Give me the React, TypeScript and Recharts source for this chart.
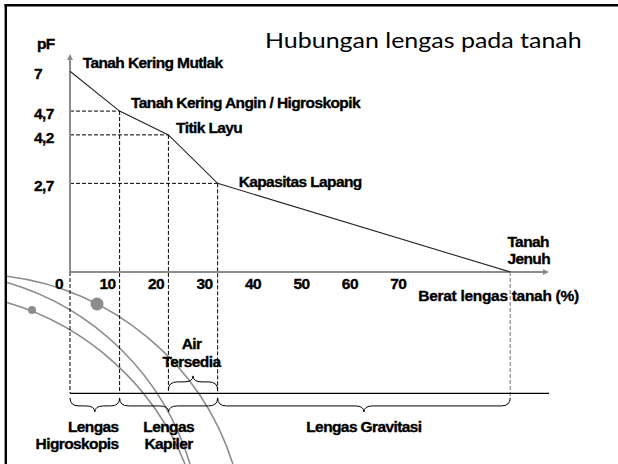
import React from 'react';
import { LineChart, Line, XAxis, YAxis, ReferenceLine } from 'recharts';

// ---- data ----
const moisture = [0, 10.23, 20.3, 30.45, 90.8]; // Berat lengas tanah (%)
const pFLabels = ['7', '4,7', '4,2', '2,7', '0'];
// schematic (non-linear) drawing height of each pF level
const pFPlot = [7, 5.61, 4.78, 3.09, 0];
const pointLabels = [
  ['Tanah Kering Mutlak'],
  ['Tanah Kering Angin / Higroskopik'],
  ['Titik Layu'],
  ['Kapasitas Lapang'],
  ['Tanah', 'Jenuh'],
];
const xTicks = [0, 10, 20, 30, 40, 50, 60, 70];
const yTicks = [pFPlot[0], pFPlot[1], pFPlot[2], pFPlot[3]];
const yTickLabels = [pFLabels[0], pFLabels[1], pFLabels[2], pFLabels[3]];
const zones = [
  { lines: ['Lengas', 'Higroskopis'], from: 0, to: 1 },
  { lines: ['Lengas', 'Kapiler'], from: 1, to: 3 },
  { lines: ['Lengas Gravitasi'], from: 3, to: 4 },
];
const availableWater = { lines: ['Air', 'Tersedia'], from: 2, to: 3 };
const title = 'Hubungan lengas pada tanah';
const xTitle = 'Berat lengas tanah (%)';
const yTitle = 'pF';

const data = moisture.map((m, i) => ({ m, pos: pFPlot[i] }));

// ---- layout ----
const X_MAX = 98.8;
const Y_MAX = 7.6;
const BASE_Y = -4.23; // horizontal base line below the axis
const BRACE_Y = -4.39; // top of the lower braces
const AIR_BRACE_Y = -4.11; // bottom of the upper brace

const labelFont: any = {
  fontFamily: "Arial, 'Liberation Sans', sans-serif",
  fontWeight: 'bold',
  fontSize: 15.5,
  letterSpacing: -0.6,
  fill: '#000',
  stroke: '#000',
  strokeWidth: 0.35,
};
const AXIS_GRAY = '#8c8c8c';
const labelOffsets = [
  [12.7, -3.2],
  [11.5, -2.7],
  [7.7, -2.3],
  [21, 3.7],
  [-2.8, -25.3],
];
const LINE_GAP = 17.3;

const renderPointLabel = (props: any) => {
  const { cx, cy, index } = props;
  const [dx, dy] = labelOffsets[index];
  return (
    <g key={`pl-${index}`}>
      {pointLabels[index].map((t, j) => (
        <text key={j} x={cx + dx} y={cy + dy + j * LINE_GAP} {...labelFont}>
          {t}
        </text>
      ))}
    </g>
  );
};

const XTick = (props: any) => {
  const { x, y, payload } = props;
  return (
    <text x={x - 11} y={y + 16.5} textAnchor="middle" {...labelFont}>
      {payload.value}
    </text>
  );
};

const YTick = (props: any) => {
  const { x, y, payload } = props;
  const idx = yTicks.indexOf(payload.value);
  return (
    <text x={x - 36} y={y + 8} textAnchor="start" {...labelFont}>
      {idx >= 0 ? yTickLabels[idx] : ''}
    </text>
  );
};

const ArrowLine = (p: any) => {
  const { x1, y1, x2, y2 } = p;
  const ang = Math.atan2(y2 - y1, x2 - x1);
  const L = 6;
  const W = 3;
  const c = Math.cos(ang);
  const s = Math.sin(ang);
  const bx = x2 - L * c;
  const by = y2 - L * s;
  const pts = `${x2},${y2} ${bx - W * s},${by + W * c} ${bx + W * s},${by - W * c}`;
  return (
    <g>
      <line x1={x1} y1={y1} x2={bx} y2={by} stroke={AXIS_GRAY} strokeWidth={2} />
      <polygon points={pts} fill={AXIS_GRAY} />
    </g>
  );
};

const bracePath = (x1: number, x2: number, y0: number, d: number) => {
  const h = 8 * d;
  const t = 6 * d;
  const xm = (x1 + x2) / 2;
  const r = Math.min(9, (x2 - x1) / 4);
  return `M ${x1} ${y0} Q ${x1} ${y0 + h} ${x1 + r} ${y0 + h} L ${xm - r} ${y0 + h} Q ${xm} ${y0 + h} ${xm} ${y0 + h + t} Q ${xm} ${y0 + h} ${xm + r} ${y0 + h} L ${x2 - r} ${y0 + h} Q ${x2} ${y0 + h} ${x2} ${y0}`;
};

const makeBrace = (lines: string[], dir: number, mode: string) => (p: any) => {
  const { x1, x2, y1 } = p;
  const xm = (x1 + x2) / 2;
  let tx = xm;
  let anchor: any = 'middle';
  if (mode === 'end') {
    tx = x2 - 1;
    anchor = 'end';
  } else if (mode === 'air') {
    tx = xm - 1.5;
  }
  const baseY = dir > 0 ? y1 + 33.7 : y1 - 41;
  const gap = dir > 0 ? LINE_GAP : 17.7;
  return (
    <g>
      <path d={bracePath(x1, x2, y1, dir)} fill="none" stroke="#000" strokeWidth={1} />
      {lines.map((t, j) => (
        <text key={j} x={tx} y={baseY + j * gap} textAnchor={anchor} {...labelFont}>
          {t}
        </text>
      ))}
    </g>
  );
};

const Background = () => (
  <svg width={618} height={464} style={{ position: 'absolute', left: 0, top: 0 }}>
    <rect x={0} y={0} width={618} height={464} fill="#fff" />
    <path d="M 7 276.3 A 273.4 273.4 0 0 1 232.9 464" fill="none" stroke={AXIS_GRAY} strokeWidth={1.6} />
    <path d="M 7 282.5 A 269.7 269.7 0 0 1 190 464" fill="none" stroke={AXIS_GRAY} strokeWidth={1.6} />
    <path d="M 7 302.6 A 275.6 275.6 0 0 1 185 464" fill="none" stroke={AXIS_GRAY} strokeWidth={1.6} />
    <circle cx={97} cy={304} r={6.5} fill={AXIS_GRAY} />
    <circle cx={32} cy={310} r={4} fill={AXIS_GRAY} />
    <line x1={4.5} y1={5.2} x2={618} y2={5.2} stroke="#000" strokeWidth={2.6} />
    <line x1={5.8} y1={4} x2={5.8} y2={464} stroke="#000" strokeWidth={2.4} />
    <text
      x={265}
      y={48.3}
      fontFamily="Lato, 'Open Sans', sans-serif"
      fontSize={21}
      textLength={316.7}
      lengthAdjust="spacingAndGlyphs"
      fill="#000"
    >
      {title}
    </text>
    <text x={37} y={49} {...labelFont}>
      {yTitle}
    </text>
    <text x={418.3} y={300.5} {...labelFont} letterSpacing={-0.3}>
      {xTitle}
    </text>
  </svg>
);

export default function App() {
  return (
    <div style={{ position: 'absolute', left: 0, top: 0, width: 618, height: 464 }}>
      <Background />
      <div style={{ position: 'absolute', left: 0, top: 0 }}>
        <LineChart
          width={618}
          height={464}
          data={data}
          margin={{ top: 54, right: 69, bottom: 162, left: 34 }}
        >
          <XAxis
            dataKey="m"
            type="number"
            domain={[0, X_MAX]}
            ticks={xTicks}
            interval={0}
            axisLine={false}
            tickLine={false}
            tickSize={0}
            tickMargin={0}
            height={30}
            tick={<XTick />}
          />
          <YAxis
            type="number"
            domain={[0, Y_MAX]}
            ticks={yTicks}
            interval={0}
            axisLine={false}
            tickLine={false}
            tickSize={0}
            tickMargin={0}
            width={36}
            tick={<YTick />}
          />
          {/* horizontal dashed guides */}
          {[1, 2, 3].map((i) => (
            <ReferenceLine
              key={`h${i}`}
              segment={[
                { x: 0, y: pFPlot[i] },
                { x: moisture[i], y: pFPlot[i] },
              ]}
              stroke="#000"
              strokeWidth={1}
              strokeDasharray="4 2"
              ifOverflow="visible"
            />
          ))}
          {/* vertical dashed guides */}
          {[0, 1, 2, 3].map((i) => (
            <ReferenceLine
              key={`v${i}`}
              segment={[
                { x: moisture[i], y: i === 0 ? 0 : pFPlot[i] },
                { x: moisture[i], y: BASE_Y },
              ]}
              stroke="#000"
              strokeWidth={1}
              strokeDasharray="4 2"
              ifOverflow="visible"
            />
          ))}
          <ReferenceLine
            segment={[
              { x: moisture[4], y: 0 },
              { x: moisture[4], y: BRACE_Y },
            ]}
            stroke="#888"
            strokeWidth={1.2}
            strokeDasharray="4 2"
            ifOverflow="visible"
          />
          {/* base line */}
          <ReferenceLine
            segment={[
              { x: 0, y: BASE_Y },
              { x: X_MAX, y: BASE_Y },
            ]}
            stroke="#000"
            strokeWidth={1.2}
            ifOverflow="visible"
          />
          {/* braces */}
          {zones.map((z, k) => (
            <ReferenceLine
              key={`z${k}`}
              segment={[
                { x: moisture[z.from], y: BRACE_Y },
                { x: moisture[z.to], y: BRACE_Y },
              ]}
              ifOverflow="visible"
              shape={makeBrace(z.lines, 1, k === 0 ? 'end' : 'middle')}
            />
          ))}
          <ReferenceLine
            segment={[
              { x: moisture[availableWater.from], y: AIR_BRACE_Y },
              { x: moisture[availableWater.to], y: AIR_BRACE_Y },
            ]}
            ifOverflow="visible"
            shape={makeBrace(availableWater.lines, -1, 'air')}
          />
          {/* axes with arrows */}
          <ReferenceLine
            segment={[
              { x: 0, y: 0 },
              { x: 0, y: Y_MAX },
            ]}
            ifOverflow="visible"
            shape={ArrowLine}
          />
          <ReferenceLine
            segment={[
              { x: 0, y: 0 },
              { x: X_MAX, y: 0 },
            ]}
            ifOverflow="visible"
            shape={ArrowLine}
          />
          <Line
            dataKey="pos"
            type="linear"
            stroke="#222"
            strokeWidth={1.1}
            dot={renderPointLabel}
            activeDot={false}
            isAnimationActive={false}
          />
        </LineChart>
      </div>
    </div>
  );
}
